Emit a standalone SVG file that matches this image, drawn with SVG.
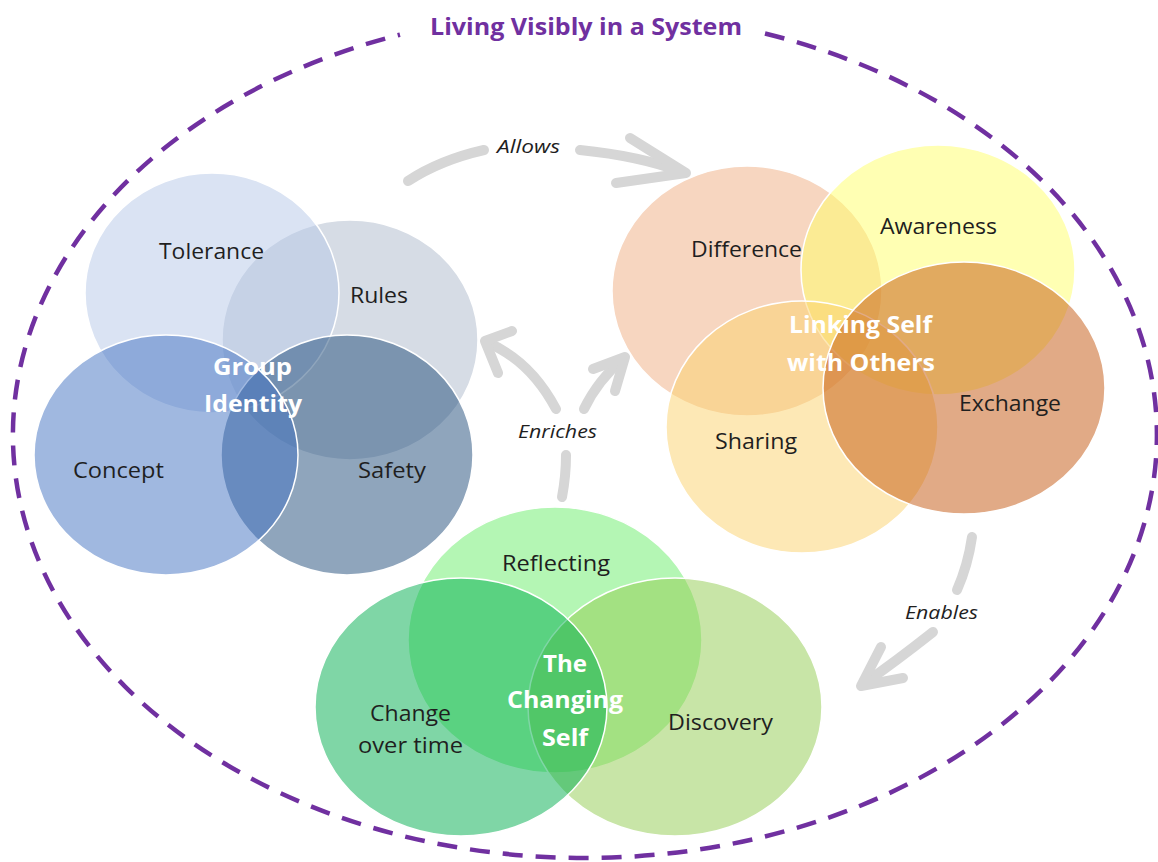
<svg xmlns="http://www.w3.org/2000/svg" width="1158" height="862" viewBox="0 0 1158 862">
  <style>
    .bg { fill: #ffffff; }
    .boundary { fill: none; stroke: #7030A0; stroke-width: 4.5; stroke-dasharray: 20 13; }
    .title { font-family: "Open Sans", "Liberation Sans", sans-serif; font-weight: 700; font-size: 24px; fill: #7030A0; }
    .set { fill-opacity: 0.5; stroke: #ffffff; stroke-width: 1.5; }
    .lbl { font-family: "Open Sans", "Liberation Sans", sans-serif; font-size: 21px; fill: #1f1f1f; }
    .core { font-family: "Open Sans", "Liberation Sans", sans-serif; font-weight: 700; font-size: 24px; fill: #ffffff; }
    .arrow { fill: none; stroke: #D6D6D6; stroke-width: 10; stroke-linecap: round; stroke-linejoin: round; }
    .verb { font-family: "Open Sans", "Liberation Sans", sans-serif; font-style: italic; font-size: 18px; fill: #1f1f1f; }
  </style>

  <rect class="bg" x="0" y="0" width="1158" height="862"/>

  <!-- outer system boundary, open at the top for the title -->
  <g id="system">
    <path class="boundary" d="M 765 33.5 A 572 423 0 1 1 400 34.7"/>
    <text class="title" x="586" y="35" text-anchor="middle" textLength="312" lengthAdjust="spacingAndGlyphs">Living Visibly in a System</text>
  </g>

  <!-- connectors between the three Venn clusters -->
  <g id="connectors">
    <g id="allows">
      <path class="arrow" d="M 408 181 Q 440 160 484 150"/>
      <path class="arrow" d="M 580 150 Q 640 156 682 172"/>
      <path class="arrow" d="M 630 138 L 686 173 L 616 183"/>
      <text class="verb" x="528.5" y="153" text-anchor="middle" textLength="63" lengthAdjust="spacingAndGlyphs">Allows</text>
    </g>
    <g id="enriches">
      <path class="arrow" d="M 562 497 Q 566 476 566 455"/>
      <path class="arrow" d="M 556 409 Q 530 360 486 342"/>
      <path class="arrow" d="M 512 331 L 485 341 L 498 373"/>
      <path class="arrow" d="M 584 409 Q 598 380 624 358"/>
      <path class="arrow" d="M 593 369 L 625 357 L 615 391"/>
      <text class="verb" x="557.5" y="438" text-anchor="middle" textLength="79" lengthAdjust="spacingAndGlyphs">Enriches</text>
    </g>
    <g id="enables">
      <path class="arrow" d="M 972 537 Q 968 565 957 590"/>
      <path class="arrow" d="M 933 632 Q 895 662 862 685"/>
      <path class="arrow" d="M 881 647 L 861 686 L 903 678"/>
      <text class="verb" x="941.5" y="619" text-anchor="middle" textLength="73" lengthAdjust="spacingAndGlyphs">Enables</text>
    </g>
  </g>

  <!-- cluster 1: Group Identity -->
  <g id="group-identity">
    <g id="rules"><ellipse class="set" cx="350" cy="340" rx="128" ry="120" fill="#ADB9CB"/></g>
    <g id="tolerance"><ellipse class="set" cx="212" cy="293" rx="127" ry="120" fill="#B5C7E7"/></g>
    <g id="safety"><ellipse class="set" cx="347" cy="455" rx="126" ry="120" fill="#1F4B79"/></g>
    <g id="concept"><ellipse class="set" cx="166" cy="455" rx="132" ry="120" fill="#4171C1"/></g>
    <text class="lbl" x="211.5" y="259" text-anchor="middle" textLength="105" lengthAdjust="spacingAndGlyphs">Tolerance</text>
    <text class="lbl" x="379" y="303" text-anchor="middle" textLength="58" lengthAdjust="spacingAndGlyphs">Rules</text>
    <text class="lbl" x="118.5" y="478" text-anchor="middle" textLength="91" lengthAdjust="spacingAndGlyphs">Concept</text>
    <text class="lbl" x="392" y="478" text-anchor="middle" textLength="68" lengthAdjust="spacingAndGlyphs">Safety</text>
    <text class="core" x="252.5" y="375" text-anchor="middle" textLength="79" lengthAdjust="spacingAndGlyphs">Group</text>
    <text class="core" x="253" y="412" text-anchor="middle" textLength="98" lengthAdjust="spacingAndGlyphs">Identity</text>
  </g>

  <!-- cluster 2: Linking Self with Others -->
  <g id="linking-self">
    <g id="difference"><ellipse class="set" cx="747" cy="291" rx="135" ry="125" fill="#EFAD81"/></g>
    <g id="awareness"><ellipse class="set" cx="938" cy="270" rx="137" ry="125" fill="#FFFF67"/></g>
    <g id="sharing"><ellipse class="set" cx="802" cy="427" rx="136" ry="126" fill="#FBD16B"/></g>
    <g id="exchange"><ellipse class="set" cx="964" cy="388" rx="141" ry="126" fill="#C3550D"/></g>
    <text class="lbl" x="746.5" y="257" text-anchor="middle" textLength="111" lengthAdjust="spacingAndGlyphs">Difference</text>
    <text class="lbl" x="938.5" y="234" text-anchor="middle" textLength="117" lengthAdjust="spacingAndGlyphs">Awareness</text>
    <text class="lbl" x="1010" y="411" text-anchor="middle" textLength="102" lengthAdjust="spacingAndGlyphs">Exchange</text>
    <text class="lbl" x="756" y="449" text-anchor="middle" textLength="82" lengthAdjust="spacingAndGlyphs">Sharing</text>
    <text class="core" x="860.5" y="333" text-anchor="middle" textLength="143" lengthAdjust="spacingAndGlyphs">Linking Self</text>
    <text class="core" x="861" y="371" text-anchor="middle" textLength="148" lengthAdjust="spacingAndGlyphs">with Others</text>
  </g>

  <!-- cluster 3: The Changing Self -->
  <g id="changing-self">
    <g id="reflecting"><ellipse class="set" cx="555" cy="640" rx="147" ry="133" fill="#69ED69"/></g>
    <g id="discovery"><ellipse class="set" cx="675" cy="707" rx="147" ry="129" fill="#91CB4F"/></g>
    <g id="change-over-time"><ellipse class="set" cx="461" cy="707" rx="146" ry="129" fill="#00AD4D"/></g>
    <text class="lbl" x="556" y="571" text-anchor="middle" textLength="108" lengthAdjust="spacingAndGlyphs">Reflecting</text>
    <text class="lbl" x="410.5" y="721" text-anchor="middle" textLength="81" lengthAdjust="spacingAndGlyphs">Change</text>
    <text class="lbl" x="410.5" y="753" text-anchor="middle" textLength="105" lengthAdjust="spacingAndGlyphs">over time</text>
    <text class="lbl" x="720.5" y="730" text-anchor="middle" textLength="105" lengthAdjust="spacingAndGlyphs">Discovery</text>
    <text class="core" x="565" y="672" text-anchor="middle" textLength="44" lengthAdjust="spacingAndGlyphs">The</text>
    <text class="core" x="565" y="708" text-anchor="middle" textLength="116" lengthAdjust="spacingAndGlyphs">Changing</text>
    <text class="core" x="565" y="746" text-anchor="middle" textLength="46" lengthAdjust="spacingAndGlyphs">Self</text>
  </g>
</svg>
